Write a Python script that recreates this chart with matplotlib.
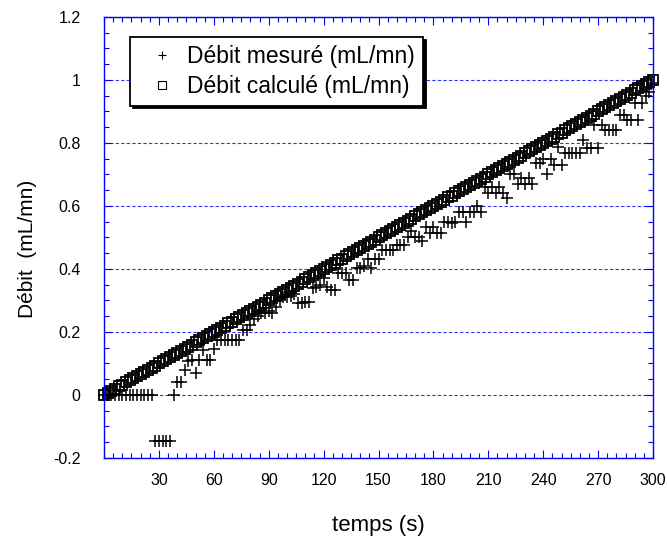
import matplotlib
matplotlib.use("Agg")
import matplotlib.pyplot as plt
from matplotlib.ticker import MultipleLocator, FixedLocator, FuncFormatter

plt.rcParams['font.family'] = ['Liberation Sans', 'DejaVu Sans']

# sampling instants (s)
temps = [
    0, 2, 4, 6, 8, 10, 12, 14, 16, 18, 20, 22, 24, 26, 28,
    30, 32, 34, 36, 38, 40, 42, 44, 46, 48, 50, 52, 54, 56, 58,
    60, 62, 64, 66, 68, 70, 72, 74, 76, 78, 80, 82, 84, 86, 88,
    90, 92, 94, 96, 98, 100, 102, 104, 106, 108, 110, 112, 114, 116, 118,
    120, 122, 124, 126, 128, 130, 132, 134, 136, 138, 140, 142, 144, 146, 148,
    150, 152, 154, 156, 158, 160, 162, 164, 166, 168, 170, 172, 174, 176, 178,
    180, 182, 184, 186, 188, 190, 192, 194, 196, 198, 200, 202, 204, 206, 208,
    210, 212, 214, 216, 218, 220, 222, 224, 226, 228, 230, 232, 234, 236, 238,
    240, 242, 244, 246, 248, 250, 252, 254, 256, 258, 260, 262, 264, 266, 268,
    270, 272, 274, 276, 278, 280, 282, 284, 286, 288, 290, 292, 294, 296, 298,
    300,
]

# flow rates (mL/mn)
debit_calcule = [
    0.000, 0.007, 0.013, 0.020, 0.027, 0.033, 0.040, 0.047, 0.053, 0.060, 0.067, 0.073, 0.080, 0.087, 0.093,
    0.100, 0.107, 0.113, 0.120, 0.127, 0.133, 0.140, 0.147, 0.153, 0.160, 0.167, 0.173, 0.180, 0.187, 0.193,
    0.200, 0.207, 0.213, 0.220, 0.227, 0.233, 0.240, 0.247, 0.253, 0.260, 0.267, 0.273, 0.280, 0.287, 0.293,
    0.300, 0.307, 0.313, 0.320, 0.327, 0.333, 0.340, 0.347, 0.353, 0.360, 0.367, 0.373, 0.380, 0.387, 0.393,
    0.400, 0.407, 0.413, 0.420, 0.427, 0.433, 0.440, 0.447, 0.453, 0.460, 0.467, 0.473, 0.480, 0.487, 0.493,
    0.500, 0.507, 0.513, 0.520, 0.527, 0.533, 0.540, 0.547, 0.553, 0.560, 0.567, 0.573, 0.580, 0.587, 0.593,
    0.600, 0.607, 0.613, 0.620, 0.627, 0.633, 0.640, 0.647, 0.653, 0.660, 0.667, 0.673, 0.680, 0.687, 0.693,
    0.700, 0.707, 0.713, 0.720, 0.727, 0.733, 0.740, 0.747, 0.753, 0.760, 0.767, 0.773, 0.780, 0.787, 0.793,
    0.800, 0.807, 0.813, 0.820, 0.827, 0.833, 0.840, 0.847, 0.853, 0.860, 0.867, 0.873, 0.880, 0.887, 0.893,
    0.900, 0.907, 0.913, 0.920, 0.927, 0.933, 0.940, 0.947, 0.953, 0.960, 0.967, 0.973, 0.980, 0.987, 0.993,
    1.000,
]

debit_mesure = [
    0, 0, 0, 0, 0, 0, 0, 0, 0, 0,
    0, 0, 0, 0, -0.145, -0.145, -0.145, -0.145, -0.145, 0,
    0.04, 0.04, 0.079, 0.108, 0.111, 0.071, 0.111, 0.143, 0.111, 0.111,
    0.146, 0.175, 0.175, 0.175, 0.175, 0.175, 0.175, 0.175, 0.206, 0.206,
    0.222, 0.24, 0.25, 0.26, 0.26, 0.265, 0.26, 0.28, 0.30, 0.31,
    0.31, 0.315, 0.32, 0.292, 0.292, 0.296, 0.296, 0.34, 0.344, 0.35,
    0.37, 0.344, 0.333, 0.333, 0.387, 0.387, 0.387, 0.365, 0.365, 0.403,
    0.403, 0.41, 0.43, 0.403, 0.43, 0.43, 0.46, 0.46, 0.46, 0.46,
    0.476, 0.476, 0.476, 0.50, 0.52, 0.50, 0.50, 0.49, 0.533, 0.513,
    0.533, 0.513, 0.513, 0.55, 0.55, 0.545, 0.55, 0.58, 0.58, 0.55,
    0.58, 0.58, 0.60, 0.58, 0.66, 0.64, 0.66, 0.64, 0.66, 0.64,
    0.625, 0.70, 0.70, 0.67, 0.69, 0.67, 0.69, 0.67, 0.735, 0.735,
    0.75, 0.70, 0.75, 0.73, 0.787, 0.73, 0.768, 0.768, 0.768, 0.768,
    0.768, 0.81, 0.784, 0.784, 0.857, 0.784, 0.857, 0.84, 0.84, 0.84,
    0.84, 0.89, 0.89, 0.873, 0.873, 0.927, 0.873, 0.927, 0.95, 0.963,
    0.99,
]

x_ticks = [30, 60, 90, 120, 150, 180, 210, 240, 270, 300]

fig = plt.figure(figsize=(6.67, 5.40), dpi=100)
ax = fig.add_axes([0.156, 0.152, 0.823, 0.8167])

ax.plot(temps, debit_mesure, ls='none', marker='+', ms=8, mew=1.1,
        color='black', clip_on=False, label='Débit mesuré (mL/mn)')
ax.plot(temps, debit_calcule, ls='none', marker='s', ms=7, mew=1.3,
        mfc='none', mec='black', clip_on=False, label='Débit calculé (mL/mn)')

ax.set_xlim(0, 300)
ax.set_ylim(-0.2, 1.2)

ax.xaxis.set_major_locator(FixedLocator(x_ticks))
ax.xaxis.set_minor_locator(MultipleLocator(5))
ax.yaxis.set_major_locator(MultipleLocator(0.2))
ax.yaxis.set_minor_locator(MultipleLocator(0.05))
ax.yaxis.set_major_formatter(FuncFormatter(lambda v, p: '%g' % round(v, 2)))

for s in ax.spines.values():
    s.set_color('blue')
    s.set_linewidth(1.0)

ax.tick_params(which='both', direction='in', color='blue', top=True, right=True,
               labelsize=11.5, width=0.8)
ax.tick_params(which='major', length=6)
ax.tick_params(which='minor', length=3.5)
ax.tick_params(axis='x', which='major', pad=11)
ax.tick_params(axis='y', which='major', pad=17)

ax.yaxis.grid(True, which='major', color='blue', ls=(0, (3, 2)), lw=0.8, alpha=0.8)
ax.set_axisbelow(True)

ax.set_xlabel('temps (s)', fontsize=16, labelpad=19)
ax.set_ylabel('Débit  (mL/mn)', fontsize=15)
ax.yaxis.set_label_coords(-0.122, 0.475)

leg = ax.legend(loc='upper left', bbox_to_anchor=(0.047, 0.955), fontsize=16.5,
                frameon=True, fancybox=False, shadow={'color': 'black', 'alpha': 1},
                edgecolor='black', framealpha=1, markerscale=0.75,
                handlelength=2.1, handletextpad=0.05, borderpad=0.35,
                labelspacing=0.3, borderaxespad=0)
leg.get_frame().set_linewidth(1.3)
for h in leg.legend_handles:
    h.set_markeredgewidth(0.8)

fig.savefig('out.png', dpi=100)
